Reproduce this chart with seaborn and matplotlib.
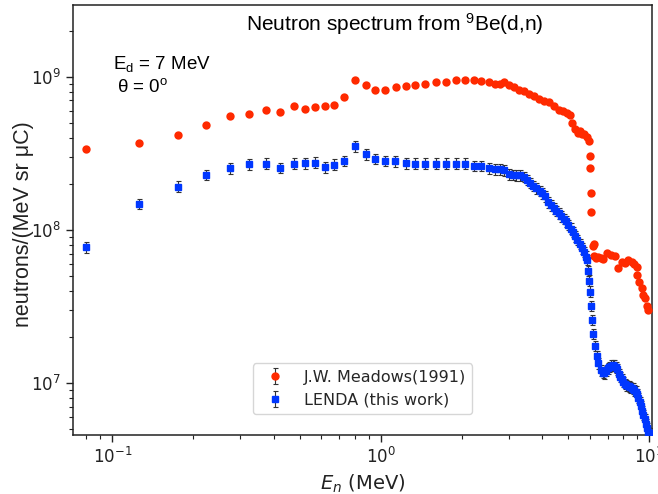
import numpy as np
import matplotlib
matplotlib.use("Agg")
import matplotlib.pyplot as plt
import seaborn as sns

# ---- data ----
meadows_E = [0.080, 0.1255, 0.175, 0.224, 0.275, 0.323, 0.374, 0.422, 0.474, 0.521,
             0.569, 0.617, 0.668, 0.728, 0.804, 0.878, 0.954, 1.04, 1.14, 1.246,
             1.343, 1.465, 1.612, 1.753, 1.906, 2.063, 2.223, 2.356, 2.525, 2.66,
             2.77, 2.885, 2.99, 3.13, 3.27, 3.42, 3.56, 3.72, 3.89, 4.06,
             4.24, 4.41, 4.60, 4.76, 4.93, 5.05, 5.15, 5.27, 5.43, 5.52,
             5.60, 5.72, 5.84, 5.95, 6.00, 6.02, 6.05, 6.08, 6.18, 6.25,
             6.22, 6.35, 6.46, 6.60, 6.71, 6.94, 7.19, 7.46, 7.67, 7.90,
             8.13, 8.36, 8.61, 8.80, 8.98, 9.03, 9.16, 9.38, 9.51, 9.67,
             9.79, 9.87]
meadows_Y = [3.36e8, 3.68e8, 4.17e8, 4.86e8, 5.54e8, 5.71e8, 6.06e8, 5.91e8, 6.47e8, 6.16e8,
             6.37e8, 6.47e8, 6.57e8, 7.41e8, 9.52e8, 8.85e8, 8.16e8, 8.20e8, 8.60e8, 8.70e8,
             8.86e8, 8.95e8, 9.26e8, 9.20e8, 9.46e8, 9.50e8, 9.50e8, 9.40e8, 9.18e8, 8.99e8,
             8.95e8, 9.18e8, 8.81e8, 8.54e8, 8.25e8, 8.08e8, 7.72e8, 7.45e8, 7.19e8, 6.90e8,
             6.83e8, 6.40e8, 6.08e8, 5.93e8, 5.84e8, 5.60e8, 5.00e8, 4.55e8, 4.30e8, 4.40e8,
             4.20e8, 4.24e8, 4.03e8, 3.79e8, 3.05e8, 2.52e8, 1.75e8, 1.30e8, 7.80e7, 8.10e7,
             6.77e7, 6.60e7, 6.70e7, 6.60e7, 6.45e7, 7.05e7, 6.87e7, 6.77e7, 5.62e7, 6.21e7,
             6.12e7, 6.37e7, 6.21e7, 5.99e7, 5.75e7, 5.09e7, 4.60e7, 4.17e7, 3.77e7, 3.59e7,
             3.19e7, 2.98e7]
meadows_relerr = 0.03

lenda_E = [0.080, 0.1255, 0.175, 0.224, 0.275, 0.323, 0.374, 0.422, 0.474, 0.521,
           0.569, 0.617, 0.668, 0.728, 0.804, 0.878, 0.954, 1.04, 1.13, 1.246,
           1.343, 1.465, 1.612, 1.753, 1.906, 2.063, 2.223, 2.356, 2.525, 2.66,
           2.77, 2.885, 3.0, 3.1, 3.2, 3.3, 3.4, 3.5, 3.6, 3.7,
           3.8, 3.9, 4.0, 4.1, 4.2, 4.3, 4.4, 4.5, 4.6, 4.7,
           4.8, 4.9, 5.0, 5.1, 5.2, 5.3, 5.4, 5.5, 5.6, 5.7,
           5.8, 5.88, 5.93, 5.97, 6.02, 6.07, 6.11, 6.16, 6.28, 6.37,
           6.46, 6.6, 6.7, 6.8, 6.9, 7.0, 7.1, 7.2, 7.3, 7.4,
           7.5, 7.6, 7.7, 7.8, 7.9, 8.0, 8.1, 8.2, 8.3, 8.4,
           8.5, 8.6, 8.7, 8.8, 8.9, 9.0, 9.1, 9.2, 9.3, 9.4,
           9.5, 9.6, 9.7, 9.8, 9.9, 10.0, 10.1]
lenda_Y = [7.71e7, 1.48e8, 1.92e8, 2.29e8, 2.53e8, 2.68e8, 2.71e8, 2.55e8, 2.71e8, 2.72e8,
           2.75e8, 2.56e8, 2.67e8, 2.83e8, 3.53e8, 3.12e8, 2.91e8, 2.82e8, 2.80e8, 2.72e8,
           2.71e8, 2.71e8, 2.71e8, 2.71e8, 2.71e8, 2.71e8, 2.62e8, 2.62e8, 2.53e8, 2.48e8,
           2.48e8, 2.46e8, 2.30e8, 2.29e8, 2.28e8, 2.27e8, 2.22e8, 2.12e8, 2.03e8, 1.94e8,
           1.87e8, 1.80e8, 1.74e8, 1.66e8, 1.52e8, 1.45e8, 1.38e8, 1.33e8, 1.28e8, 1.23e8,
           1.18e8, 1.14e8, 1.08e8, 1.02e8, 9.70e7, 9.10e7, 8.60e7, 8.10e7, 7.60e7, 7.20e7,
           6.70e7, 6.37e7, 5.42e7, 4.67e7, 3.96e7, 3.19e7, 2.59e7, 2.10e7, 1.75e7, 1.51e7,
           1.35e7, 1.21e7, 1.17e7, 1.16e7, 1.20e7, 1.25e7, 1.28e7, 1.30e7, 1.31e7, 1.30e7,
           1.27e7, 1.23e7, 1.15e7, 1.10e7, 1.06e7, 1.02e7, 9.9e6, 9.7e6, 9.6e6, 9.5e6,
           9.4e6, 9.3e6, 9.2e6, 9.0e6, 8.8e6, 8.5e6, 8.0e6, 7.5e6, 7.1e6, 6.6e6,
           6.2e6, 5.8e6, 5.4e6, 5.1e6, 4.8e6, 4.6e6, 4.7e6]
lenda_relerr = 0.08

red = "#ff2a00"
blue = "#0037ff"

sns.set_theme(style="ticks")
plt.rcParams["font.family"] = ["DejaVu Sans"]
plt.rcParams["axes.edgecolor"] = "#222222"

W, H = 658, 494
fig = plt.figure(figsize=(W / 100, H / 100), dpi=100)
ax = fig.add_axes([0.1103, 0.1194, 0.8812, 0.8705])

mE, mY = np.array(meadows_E), np.array(meadows_Y)
lE, lY = np.array(lenda_E), np.array(lenda_Y)

ax.errorbar(mE, mY, yerr=mY * meadows_relerr, fmt="o", color=red, ms=5,
            mec=red, ecolor="#333333", elinewidth=0.8, capsize=1.8, capthick=0.8,
            label="J.W. Meadows(1991)", zorder=3)
ax.errorbar(lE, lY, yerr=lY * lenda_relerr, fmt="s", color=blue, ms=5,
            mec=blue, ecolor="#333333", elinewidth=0.8, capsize=1.8, capthick=0.8,
            label="LENDA (this work)", zorder=3)
sns.scatterplot(x=lE, y=lY, ax=ax, marker="s", color=blue, s=25, linewidth=0,
                zorder=4, legend=False)
sns.scatterplot(x=mE, y=mY, ax=ax, marker="o", color=red, s=25, linewidth=0,
                zorder=4, legend=False)

ax.set_xscale("log")
ax.set_yscale("log")
ax.set_xlim(0.0711, 10.27)
ax.set_ylim(4.58e6, 2.94e9)

ax.tick_params(axis="both", which="major", labelsize=12, length=5, width=1,
               color="#222222", labelcolor="#222222")
ax.tick_params(axis="both", which="minor", length=3, width=0.8, color="#222222")
for s in ax.spines.values():
    s.set_linewidth(1.1)

fam = ["Liberation Sans", "DejaVu Sans"]
ax.set_xlabel("$E_n$ (MeV)", fontsize=14, color="#222222")
ax.set_ylabel("neutrons/(MeV sr μC)", fontsize=15.5, family=fam, color="#222222")
ax.yaxis.set_label_coords(-0.067, 0.49)

ax.text(395, H - 24, r"Neutron spectrum from $\mathregular{^9}$Be(d,n)",
        transform=None, ha="center", va="center", fontsize=15, family=fam, color="black")
ax.text(113, H - 64, r"E$\mathregular{_d}$ = 7 MeV", transform=None, ha="left",
        va="center", fontsize=13.5, family=fam, color="black")
ax.text(117, H - 87, r"θ = 0$\mathregular{^o}$", transform=None, ha="left",
        va="center", fontsize=13.5, family=fam, color="black")

ax.legend(loc="lower center", bbox_to_anchor=(0.5, 0.03), fontsize=11.5,
          frameon=True, framealpha=0.8, edgecolor="#cccccc", borderaxespad=0.5)

fig.savefig("out.png", dpi=100)
